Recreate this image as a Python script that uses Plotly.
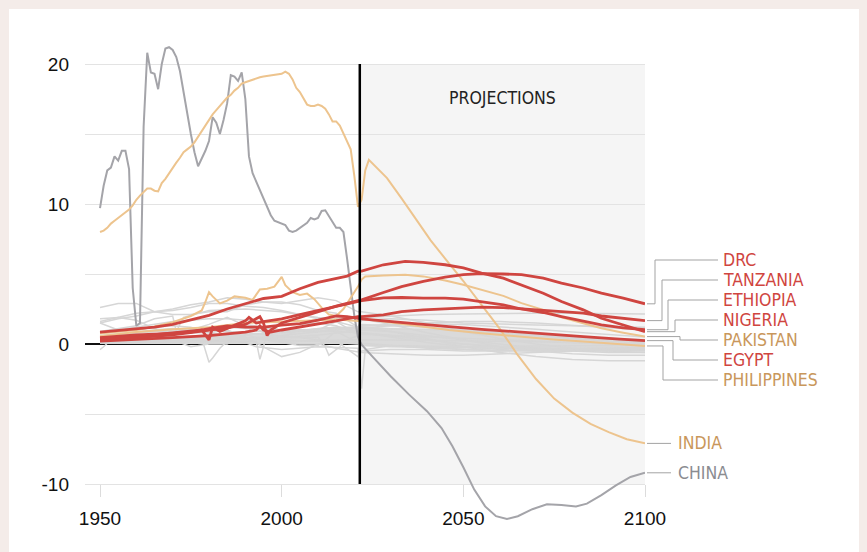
import plotly.graph_objects as go

# ------------------------------------------------------------------ data
# annual population change, millions
china_years = list(range(1950, 2022)) + [2022, 2025, 2030, 2035, 2040, 2044, 2047, 2050, 2053, 2056, 2059,
                                         2062, 2065, 2069, 2073, 2077, 2081, 2084, 2088, 2092, 2096, 2100]
china_vals = [9.7, 11.3, 12.4, 12.6, 13.4, 13.1, 13.8, 13.8, 12.5, 4.0, 1.3, 1.5, 15.5, 20.8, 19.4, 19.3,
              18.2, 20.0, 21.1, 21.2, 21.0, 20.5, 19.5, 18.1, 16.5, 15.0, 13.7, 12.7, 13.2, 13.8, 14.5,
              16.2, 15.8, 15.0, 16.0, 17.2, 19.2, 19.1, 18.8, 19.4, 17.5, 13.4, 12.2, 11.6, 11.1, 10.5,
              9.8, 9.2, 8.8, 8.7, 8.65, 8.5, 8.1, 8.0, 8.1, 8.3, 8.5, 8.65, 9.0, 8.9, 9.0, 9.5, 9.55,
              9.1, 8.7, 8.3, 8.3, 8.0, 6.1, 3.9, 2.0, 0.5,
              -0.05, -0.9, -2.3, -3.6, -4.8, -6.0, -7.3, -8.8, -10.4, -11.6, -12.3,
              -12.5, -12.3, -11.8, -11.45, -11.5, -11.6, -11.4, -10.8, -10.1, -9.5, -9.2]

india_years = list(range(1950, 2022)) + [2022, 2023, 2024, 2026, 2029, 2033, 2037, 2041, 2045, 2050, 2055,
                                         2060, 2065, 2070, 2075, 2080, 2085, 2090, 2095, 2100]
india_vals = [8.0, 8.1, 8.3, 8.6, 8.8, 9.0, 9.25, 9.4, 9.6, 9.9, 10.3, 10.6, 10.85, 11.1, 11.1, 10.95,
              10.9, 11.5, 11.8, 12.2, 12.6, 12.95, 13.3, 13.7, 13.9, 14.1, 14.4, 14.8, 15.2, 15.6, 16.0,
              16.4, 16.7, 17.0, 17.3, 17.6, 17.8, 18.1, 18.3, 18.6, 18.7, 18.8, 18.9, 19.0, 19.05, 19.1,
              19.15, 19.15, 19.2, 19.25, 19.3, 19.45, 19.3, 18.9, 18.3, 18.0, 17.5, 17.1, 17.0, 17.0,
              17.1, 17.0, 16.8, 16.4, 15.9, 15.9, 15.6, 15.0, 14.4, 13.9, 12.0, 9.8,
              10.3, 12.4, 13.15, 12.6, 11.85, 10.4, 8.9, 7.4, 6.1, 4.5, 2.8,
              1.1, -0.8, -2.5, -3.9, -4.9, -5.7, -6.3, -6.8, -7.1]

pakistan_years = [1950, 1955, 1960, 1965, 1970, 1975, 1978, 1979, 1980, 1981, 1983, 1985, 1987, 1990, 1992,
                  1994, 1996, 1998, 2000, 2001, 2003, 2005, 2007, 2009, 2011, 2013, 2015, 2017, 2019, 2021,
                  2022, 2023, 2028, 2034, 2039, 2045, 2050, 2055, 2061, 2066, 2072, 2077, 2083, 2088, 2094, 2100]
pakistan_vals = [0.75, 0.85, 1.0, 1.25, 1.55, 2.0, 2.4, 3.0, 3.7, 3.4, 2.9, 3.1, 3.4, 3.3, 3.15,
                 3.9, 3.95, 4.1, 4.8, 4.2, 3.7, 3.5, 3.6, 3.2, 2.6, 2.1, 2.0, 2.5, 3.3, 4.1,
                 4.6, 4.83, 4.9, 4.95, 4.83, 4.54, 4.23, 3.87, 3.44, 2.92, 2.44, 1.91, 1.48, 1.12, 0.81, 0.53]

philippines_years = [1950, 1960, 1970, 1980, 1990, 2000, 2010, 2015, 2021,
                     2022, 2028, 2037, 2046, 2055, 2065, 2074, 2083, 2092, 2100]
philippines_vals = [0.55, 0.85, 1.05, 1.2, 1.5, 1.6, 1.65, 1.75, 1.65,
                    1.8, 1.6, 1.29, 1.0, 0.76, 0.53, 0.34, 0.17, 0.0, -0.14]

nigeria_years = [1950, 1955, 1960, 1965, 1970, 1975, 1980, 1985, 1990, 1995, 2000, 2005, 2010, 2015, 2018, 2021,
                 2022, 2028, 2034, 2039, 2045, 2050, 2055, 2061, 2066, 2072, 2077, 2083, 2088, 2094, 2100]
nigeria_vals = [0.85, 0.95, 1.1, 1.2, 1.4, 1.75, 2.05, 2.5, 2.9, 3.25, 3.4, 3.95, 4.4, 4.7, 4.85, 5.2,
                5.2, 5.66, 5.9, 5.83, 5.66, 5.43, 5.07, 4.7, 4.23, 3.63, 3.03, 2.44, 1.84, 1.36, 0.88]

drc_years = [1950, 1960, 1970, 1980, 1985, 1990, 1993, 1994, 1995, 1996, 1997, 2000, 2005, 2010, 2015, 2021,
             2022, 2028, 2033, 2039, 2045, 2050, 2055, 2061, 2066, 2072, 2077, 2083, 2088, 2094, 2100]
drc_vals = [0.35, 0.45, 0.65, 0.95, 1.15, 1.4, 1.8, 1.95, 1.5, 0.6, 1.0, 1.5, 1.9, 2.3, 2.7, 3.1,
            3.15, 3.68, 4.1, 4.47, 4.78, 4.95, 5.02, 5.0, 4.95, 4.7, 4.35, 4.0, 3.63, 3.28, 2.87]

ethiopia_years = [1950, 1960, 1970, 1978, 1980, 1981, 1983, 1985, 1990, 1991, 1993, 1995, 2000, 2005, 2010, 2015,
                  2021, 2022, 2028, 2033, 2039, 2045, 2050, 2055, 2061, 2066, 2072, 2077, 2083, 2088, 2094, 2100]
ethiopia_vals = [0.4, 0.55, 0.8, 1.0, 0.3, 1.2, 0.9, 1.1, 1.65, 1.9, 1.5, 1.6, 1.8, 2.1, 2.4, 2.7,
                 3.05, 3.1, 3.3, 3.32, 3.27, 3.27, 3.2, 3.03, 2.8, 2.5, 2.25, 1.96, 1.65, 1.36, 1.15, 1.02]

tanzania_years = [1950, 1960, 1970, 1980, 1985, 1990, 1993, 1994, 1995, 1997, 2000, 2005, 2010, 2015, 2021,
                  2022, 2028, 2033, 2039, 2045, 2050, 2055, 2061, 2066, 2072, 2077, 2083, 2088, 2094, 2100]
tanzania_vals = [0.2, 0.3, 0.45, 0.6, 0.7, 0.85, 1.0, 1.3, 1.0, 0.85, 1.0, 1.2, 1.45, 1.65, 1.95,
                 1.96, 2.08, 2.32, 2.44, 2.5, 2.58, 2.63, 2.6, 2.5, 2.39, 2.32, 2.2, 2.0, 1.84, 1.67]

egypt_years = [1950, 1960, 1970, 1975, 1980, 1985, 1990, 1995, 2000, 2005, 2010, 2015, 2018, 2021,
               2022, 2028, 2037, 2046, 2055, 2065, 2074, 2083, 2092, 2100]
egypt_vals = [0.45, 0.65, 0.75, 0.85, 1.1, 1.3, 1.2, 1.2, 1.35, 1.45, 1.7, 2.0, 1.95, 1.8,
              1.79, 1.65, 1.43, 1.24, 1.05, 0.88, 0.72, 0.53, 0.36, 0.24]

# other countries (light grey), common year grid
grey_years = [1950, 1955, 1960, 1965, 1970, 1975, 1980, 1985, 1990, 1995, 2000, 2005, 2010, 2015, 2021,
              2022, 2030, 2040, 2050, 2060, 2070, 2080, 2090, 2100]
usa_vals = [2.6, 2.9, 2.9, 2.3, 2.1, 2.1, 2.3, 2.3, 2.8, 3.0, 3.0, 2.8, 2.4, 2.2, 1.2,
            1.7, 1.8, 1.7, 1.5, 1.4, 1.35, 1.3, 1.25, 1.2]
indonesia_vals = [1.5, 1.8, 2.0, 2.3, 2.5, 2.8, 3.0, 3.3, 3.2, 3.0, 2.9, 3.1, 3.3, 3.1, 2.3,
                  2.3, 2.0, 1.5, 0.9, 0.4, 0.0, -0.3, -0.5, -0.6]
brazil_vals = [1.6, 1.9, 2.2, 2.3, 2.4, 2.6, 2.9, 2.9, 2.7, 2.6, 2.4, 2.1, 1.8, 1.6, 1.2,
               1.2, 0.9, 0.4, -0.2, -0.6, -0.9, -1.1, -1.2, -1.2]
russia_vals = [1.8, 1.9, 1.7, 1.1, 0.8, 0.8, 0.8, 1.0, 0.5, -0.2, -0.9, -0.6, 0.0, 0.2, -0.9,
               -0.5, -0.4, -0.4, -0.5, -0.5, -0.4, -0.4, -0.4, -0.4]
japan_vals = [1.5, 1.0, 1.0, 1.2, 1.3, 1.2, 0.8, 0.6, 0.4, 0.3, 0.2, 0.0, 0.0, -0.3, -0.6,
              -0.6, -0.7, -0.8, -0.8, -0.7, -0.6, -0.5, -0.5, -0.4]
mexico_vals = [0.8, 1.0, 1.2, 1.4, 1.6, 1.7, 1.8, 1.8, 1.7, 1.6, 1.5, 1.4, 1.5, 1.3, 0.7,
               1.0, 0.9, 0.6, 0.3, 0.0, -0.3, -0.5, -0.6, -0.6]
vietnam_vals = [0.4, 0.6, 0.8, 0.9, 1.0, 1.1, 1.2, 1.3, 1.4, 1.2, 1.0, 0.9, 0.9, 0.9, 0.8,
                0.8, 0.6, 0.3, 0.0, -0.2, -0.3, -0.4, -0.4, -0.4]
iran_vals = [0.4, 0.5, 0.6, 0.7, 0.8, 1.0, 1.4, 1.9, 1.3, 0.9, 0.8, 0.9, 1.1, 1.2, 0.9,
             0.8, 0.5, 0.1, -0.2, -0.4, -0.5, -0.5, -0.5, -0.45]
turkey_vals = [0.55, 0.7, 0.8, 0.9, 0.9, 1.0, 1.1, 1.2, 1.1, 1.1, 1.0, 1.0, 1.0, 1.6, 0.7,
               0.8, 0.6, 0.3, 0.0, -0.2, -0.35, -0.45, -0.5, -0.5]
niger_vals = [0.07, 0.1, 0.12, 0.14, 0.15, 0.2, 0.25, 0.3, 0.3, 0.4, 0.45, 0.55, 0.65, 0.8, 0.95,
              1.9, 2.0, 2.1, 2.15, 2.2, 2.2, 2.2, 2.2, 2.15]
uganda_vals = [0.15, 0.2, 0.25, 0.3, 0.35, 0.35, 0.4, 0.5, 0.65, 0.75, 0.85, 0.95, 1.1, 1.2, 1.2,
               1.3, 1.4, 1.45, 1.4, 1.25, 1.05, 0.85, 0.65, 0.5]
kenya_vals = [0.2, 0.25, 0.3, 0.4, 0.45, 0.55, 0.65, 0.75, 0.9, 0.9, 0.95, 1.05, 1.1, 1.1, 1.1,
              1.1, 1.1, 1.05, 0.95, 0.8, 0.6, 0.45, 0.3, 0.2]
angola_vals = [0.1, 0.12, 0.15, 0.18, 0.2, 0.25, 0.3, 0.35, 0.4, 0.5, 0.6, 0.75, 0.9, 1.0, 1.1,
               1.15, 1.3, 1.5, 1.6, 1.6, 1.5, 1.35, 1.15, 1.0]
germany_vals = [0.4, 0.6, 0.7, 0.6, 0.3, -0.2, 0.0, 0.0, 0.7, 0.3, 0.1, -0.1, -0.1, 0.9, 0.1,
                -0.1, -0.2, -0.25, -0.3, -0.3, -0.3, -0.3, -0.3, -0.3]
thailand_vals = [0.6, 0.75, 0.9, 1.0, 1.1, 1.05, 1.0, 0.9, 0.8, 0.7, 0.6, 0.45, 0.3, 0.2, 0.1,
                 0.05, -0.1, -0.3, -0.4, -0.45, -0.4, -0.35, -0.3, -0.25]

bangladesh_years = [1950, 1955, 1960, 1965, 1970, 1971, 1973, 1980, 1990, 2000, 2010, 2021,
                    2022, 2030, 2040, 2050, 2060, 2070, 2080, 2090, 2100]
bangladesh_vals = [0.9, 1.1, 1.3, 1.8, 2.0, 0.9, 1.9, 2.4, 2.5, 2.3, 1.9, 1.8,
                   1.8, 1.4, 0.8, 0.3, -0.2, -0.5, -0.7, -0.8, -0.8]
afghanistan_years = [1950, 1960, 1970, 1978, 1980, 1981, 1983, 1985, 1990, 1992, 1995, 2000, 2005, 2010,
                     2015, 2021, 2022, 2030, 2040, 2050, 2060, 2070, 2080, 2090, 2100]
afghanistan_vals = [0.15, 0.2, 0.3, 0.4, -1.3, -1.0, -0.3, 0.2, 0.6, 1.3, 0.8, 0.5, 1.0, 0.9,
                    1.1, 1.2, 1.4, 1.3, 1.2, 1.0, 0.8, 0.6, 0.4, 0.2, 0.1]
rwanda_years = [1950, 1970, 1990, 1993, 1994, 1995, 1996, 1997, 2000, 2021, 2022, 2060, 2100]
rwanda_vals = [0.05, 0.12, 0.2, 0.2, -1.1, -0.2, 0.9, 0.6, 0.2, 0.3, 0.3, 0.2, 0.0]
syria_years = [1950, 1980, 2000, 2010, 2012, 2013, 2014, 2016, 2018, 2021, 2022, 2060, 2100]
syria_vals = [0.1, 0.3, 0.4, 0.5, -0.2, -0.8, -0.6, -0.2, 0.3, 0.6, 0.7, 0.3, -0.1]
ukraine_years = [1950, 1960, 1970, 1980, 1990, 1993, 2000, 2010, 2021, 2022, 2023, 2030, 2050, 2070, 2100]
ukraine_vals = [0.3, 0.5, 0.35, 0.2, 0.1, -0.2, -0.4, -0.2, -0.3, -3.2, -0.4, -0.1, -0.2, -0.15, -0.1]
korea_years = [1950, 1951, 1953, 1955, 1960, 1970, 1980, 1990, 2000, 2010, 2021,
               2022, 2030, 2040, 2050, 2060, 2070, 2080, 2090, 2100]
korea_vals = [-0.4, -0.2, 0.3, 0.6, 0.7, 0.5, 0.5, 0.4, 0.3, 0.2, 0.0,
              -0.05, -0.1, -0.25, -0.4, -0.5, -0.5, -0.4, -0.35, -0.3]

# dense band formed by the many small countries
band_years = [1950, 1960, 1970, 1980, 1990, 2000, 2010, 2021, 2022, 2030, 2040, 2050, 2060, 2070, 2080, 2090, 2100]
band_upper = [0.45, 0.5, 0.6, 0.65, 0.75, 0.85, 1.0, 1.2, 1.3, 1.15, 1.05, 0.95, 0.85, 0.7, 0.55, 0.45, 0.35]
band_lower = [0.0, 0.0, 0.0, 0.0, 0.0, 0.0, 0.0, 0.0, -0.1, -0.2, -0.25, -0.3, -0.3, -0.3, -0.3, -0.3, -0.3]

x_ticks = [1950, 2000, 2050, 2100]
y_ticks = [-10, -5, 0, 5, 10, 15, 20]
y_ticktext = ["-10", "", "0", "", "10", "", "20"]
projection_start = 2021.5

# ------------------------------------------------------------------ style
RED = "#cf4540"
TAN = "#edc48e"
RED_TXT = "#d0453f"
TAN_TXT = "#c9975b"
GREY_TXT = "#8b8c91"
CHINA_LINE = "#a4a4a9"
LIGHT = "#d6d6d6"
PINK = "#f4ece9"
COND = "DejaVu Sans Condensed, Liberation Sans Narrow, Arial Narrow, sans-serif"
SANS = "Liberation Sans, Arial, Helvetica, sans-serif"

Y_MIN, Y_MAX = -13, 22
X_MIN = 1945.87
OFF = 8                      # page body margin: figure origin sits at (8, 8) in the window
W, H = 867, 552
ML, MR, MT, MB = 77, 230, 28, 34
PW = W - ML - MR
PH = H - MT - MB


def px_to_paper_x(px):
    """window pixel -> paper x"""
    return (px - OFF - ML) / PW


def px_to_paper_y(py):
    """window pixel -> paper y"""
    return (H - MB - (py - OFF)) / PH


fig = go.Figure()

# grey band
fig.add_trace(go.Scatter(x=band_years, y=band_lower, mode="lines", line=dict(width=0, color=LIGHT),
                         hoverinfo="skip", showlegend=False))
fig.add_trace(go.Scatter(x=band_years, y=band_upper, mode="lines", line=dict(width=0, color=LIGHT),
                         fill="tonexty", fillcolor="#dadada", hoverinfo="skip", showlegend=False))

grey_series = [
    ("United States", grey_years, usa_vals), ("Indonesia", grey_years, indonesia_vals),
    ("Brazil", grey_years, brazil_vals), ("Russia", grey_years, russia_vals),
    ("Japan", grey_years, japan_vals), ("Mexico", grey_years, mexico_vals),
    ("Vietnam", grey_years, vietnam_vals), ("Iran", grey_years, iran_vals),
    ("Turkey", grey_years, turkey_vals), ("Niger", grey_years, niger_vals),
    ("Uganda", grey_years, uganda_vals), ("Kenya", grey_years, kenya_vals),
    ("Angola", grey_years, angola_vals), ("Germany", grey_years, germany_vals),
    ("Thailand", grey_years, thailand_vals), ("Bangladesh", bangladesh_years, bangladesh_vals),
    ("Afghanistan", afghanistan_years, afghanistan_vals), ("Rwanda", rwanda_years, rwanda_vals),
    ("Syria", syria_years, syria_vals), ("Ukraine", ukraine_years, ukraine_vals),
    ("Korea", korea_years, korea_vals),
]
for name, xs, ys in grey_series:
    fig.add_trace(go.Scatter(x=xs, y=ys, mode="lines", name=name, line=dict(color=LIGHT, width=1.5),
                             showlegend=False))

fig.add_trace(go.Scatter(x=china_years, y=china_vals, mode="lines", name="China",
                         line=dict(color=CHINA_LINE, width=2), showlegend=False))
fig.add_trace(go.Scatter(x=india_years, y=india_vals, mode="lines", name="India",
                         line=dict(color=TAN, width=2), showlegend=False))
for name, xs, ys in [("Philippines", philippines_years, philippines_vals),
                     ("Pakistan", pakistan_years, pakistan_vals)]:
    fig.add_trace(go.Scatter(x=xs, y=ys, mode="lines", name=name, line=dict(color=TAN, width=2),
                             showlegend=False))
for name, xs, ys in [("Egypt", egypt_years, egypt_vals), ("Tanzania", tanzania_years, tanzania_vals),
                     ("Ethiopia", ethiopia_years, ethiopia_vals), ("DRC", drc_years, drc_vals),
                     ("Nigeria", nigeria_years, nigeria_vals)]:
    fig.add_trace(go.Scatter(x=xs, y=ys, mode="lines", name=name, line=dict(color=RED, width=2.8),
                             showlegend=False))

shapes = []
# white card over the pinkish page
shapes.append(dict(type="rect", xref="paper", yref="paper", x0=px_to_paper_x(9), x1=1.6,
                   y0=-0.3, y1=px_to_paper_y(9), fillcolor="white", line=dict(width=0), layer="below"))
# projection shading
shapes.append(dict(type="rect", xref="x", yref="y", x0=projection_start, x1=2100, y0=-10, y1=20,
                   fillcolor="#f5f5f5", line=dict(width=0), layer="below"))
# divider
shapes.append(dict(type="line", xref="x", yref="y", x0=projection_start, x1=projection_start, y0=-10, y1=20,
                   line=dict(color="black", width=2.5), layer="above"))

annotations = []
annotations.append(dict(x=(projection_start + 2100) / 2, y=17.6, xref="x", yref="y", text="PROJECTIONS",
                        showarrow=False, font=dict(family=COND, size=17.5, color="#222")))

# stacked labels with elbow connectors
stack = [("DRC", drc_vals[-1], RED_TXT, 655), ("TANZANIA", tanzania_vals[-1], RED_TXT, 662),
         ("ETHIOPIA", ethiopia_vals[-1], RED_TXT, 668), ("NIGERIA", nigeria_vals[-1], RED_TXT, 675),
         ("PAKISTAN", pakistan_vals[-1], TAN_TXT, 680), ("EGYPT", egypt_vals[-1], RED_TXT, 673),
         ("PHILIPPINES", philippines_vals[-1], TAN_TXT, 663)]
label_step = 20 / (PH / (Y_MAX - Y_MIN))  # 20px spacing in data units
top_label = 6.0
x_start = px_to_paper_x(647)
x_end = px_to_paper_x(718)
for i, (txt, endv, col, elbow) in enumerate(stack):
    ly = top_label - i * label_step
    xe = px_to_paper_x(elbow)
    for seg in [(x_start, endv, xe, endv), (xe, endv, xe, ly), (xe, ly, x_end, ly)]:
        shapes.append(dict(type="line", xref="paper", yref="y", x0=seg[0], y0=seg[1], x1=seg[2], y1=seg[3],
                           line=dict(color="#a3a3a3", width=1)))
    annotations.append(dict(x=px_to_paper_x(721), y=ly, xref="paper", yref="y", text=txt, showarrow=False,
                            xanchor="left", yanchor="middle", font=dict(family=COND, size=17.5, color=col)))

for txt, endv, col in [("INDIA", india_vals[-1], TAN_TXT), ("CHINA", china_vals[-1], GREY_TXT)]:
    shapes.append(dict(type="line", xref="paper", yref="y", x0=x_start, y0=endv, x1=px_to_paper_x(671), y1=endv,
                       line=dict(color="#a3a3a3", width=1)))
    annotations.append(dict(x=px_to_paper_x(676), y=endv, xref="paper", yref="y", text=txt, showarrow=False,
                            xanchor="left", yanchor="middle", font=dict(family=COND, size=17.5, color=col)))

fig.update_layout(
    width=W, height=H,
    margin=dict(l=ML, r=MR, t=MT, b=MB, pad=0),
    paper_bgcolor=PINK,
    plot_bgcolor="white",
    showlegend=False,
    shapes=shapes,
    annotations=annotations,
    xaxis=dict(range=[X_MIN, 2100], tickvals=x_ticks, ticks="outside", ticklen=12, tickwidth=1,
               tickcolor="#dcdcdc", showgrid=False, zeroline=False, showline=False,
               anchor="free", position=(-10 - Y_MIN) / (Y_MAX - Y_MIN), ticklabelstandoff=5,
               tickfont=dict(family=SANS, size=19, color="#111")),
    yaxis=dict(range=[Y_MIN, Y_MAX], tickvals=y_ticks, ticktext=y_ticktext, ticks="",
               showgrid=True, gridcolor="#e3e3e3", gridwidth=1,
               zeroline=True, zerolinecolor="#111", zerolinewidth=1.6, showline=False,
               ticklabelstandoff=15, tickfont=dict(family=SANS, size=19, color="#111")),
)

fig.write_html("out.html", post_script="document.body.style.background='" + PINK + "';")
